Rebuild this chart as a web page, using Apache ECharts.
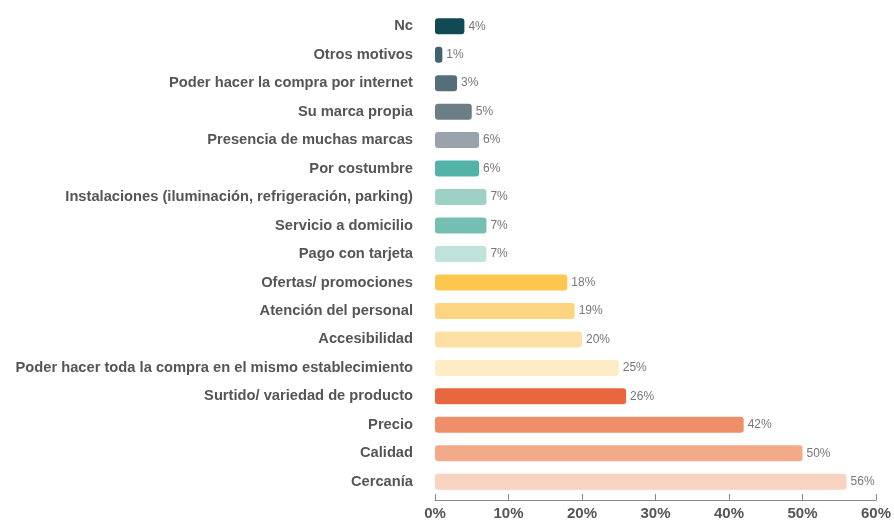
<!DOCTYPE html>
<html><head><meta charset="utf-8">
<script src="https://cdn.jsdelivr.net/npm/echarts@6/dist/echarts.min.js"></script>
<style>html,body{margin:0;padding:0;background:#fff}#c{width:894px;height:521px}</style>
</head><body><div id="c"></div>
<script>
const categories = ["Nc","Otros motivos","Poder hacer la compra por internet","Su marca propia","Presencia de muchas marcas","Por costumbre","Instalaciones (iluminación, refrigeración, parking)","Servicio a domicilio","Pago con tarjeta","Ofertas/ promociones","Atención del personal","Accesibilidad","Poder hacer toda la compra en el mismo establecimiento","Surtido/ variedad de producto","Precio","Calidad","Cercanía"];
const values = [4,1,3,5,6,6,7,7,7,18,19,20,25,26,42,50,56];
const barColors = ["#0f4a55","#3d6470","#566e78","#6c7e86","#9aa3ab","#52b3a6","#9fd0c6","#74bfb1","#bfe3da","#fcc64f","#fdd47f","#fde0a6","#fdecc6","#e9673e","#ef8f6a","#f3aa8b","#f8d3c1"];
const xTicks = [0,10,20,30,40,50,60];

const chart = echarts.init(document.getElementById('c'));
chart.setOption({
  animation:false,
  backgroundColor:'#fff',
  grid:{left:435,right:17,top:12,bottom:21,containLabel:false},
  xAxis:{type:'value',min:xTicks[0],max:xTicks[xTicks.length-1],interval:10,offset:4,
    axisLine:{show:true,lineStyle:{color:'#888',width:1}},
    axisTick:{show:true,inside:true,length:6,lineStyle:{color:'#888'}},
    splitLine:{show:false},
    axisLabel:{formatter:'{value}%',color:'#555',fontSize:15,fontWeight:'bold',fontFamily:'Liberation Sans, Arial, sans-serif',margin:6}},
  yAxis:{type:'category',data:categories,inverse:true,
    axisLine:{show:false},axisTick:{show:false},
    axisLabel:{color:'#555',fontSize:14.7,fontWeight:'bold',fontFamily:'Liberation Sans, Arial, sans-serif',margin:22}},
  series:[{type:'bar',barWidth:16,
    data:values.map((v,i)=>({value:v,itemStyle:{color:barColors[i],borderRadius:3}})),
    label:{show:true,position:'right',distance:4,formatter:'{c}%',color:'#777',fontSize:12,fontFamily:'Liberation Sans, Arial, sans-serif'}}]
});
</script></body></html>
